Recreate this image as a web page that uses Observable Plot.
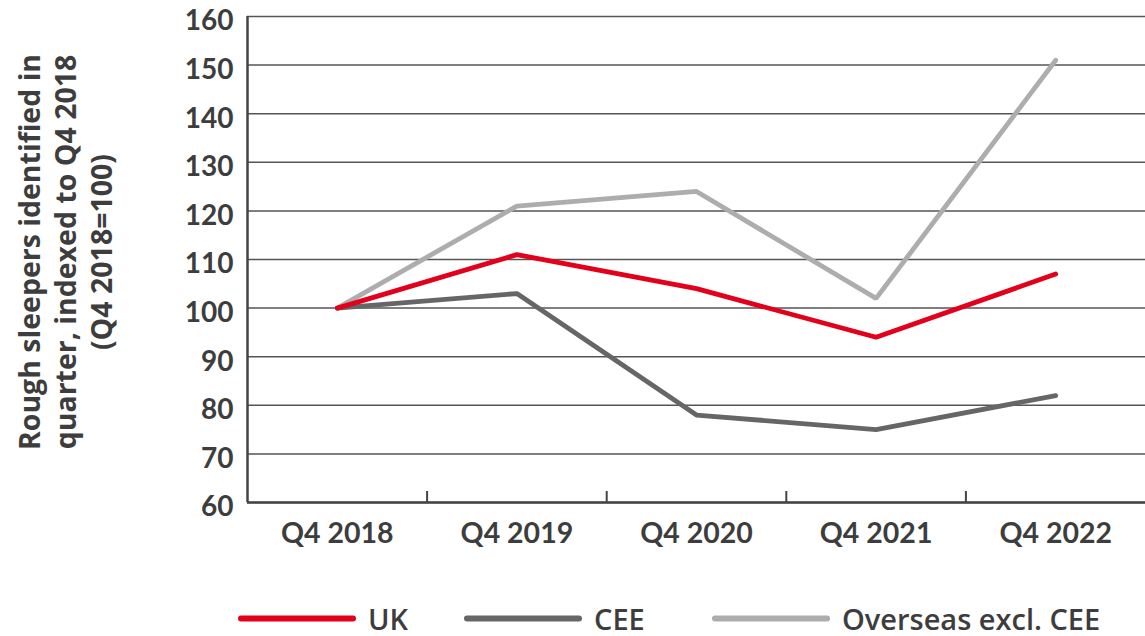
<!DOCTYPE html>
<html>
<head>
<meta charset="utf-8">
<script src="https://cdn.jsdelivr.net/npm/d3@7"></script>
<script src="https://cdn.jsdelivr.net/npm/@observablehq/plot@0.6"></script>
<style>
  html, body { margin: 0; padding: 0; background: #fff; }
  body { width: 1145px; height: 636px; position: relative; overflow: hidden; font-family: Lato, "Open Sans", sans-serif; color: #3d3d3d; }
  #chart { position: absolute; left: 0; top: 0; }
  #ytitle { position: absolute; left: 65px; top: 252px; transform: translate(-50%, -50%) rotate(-90deg); white-space: nowrap; text-align: center; font-family: "Open Sans", sans-serif; font-weight: 700; font-size: 28.5px; line-height: 36px; color: #3d3d3d; }
  .item { position: absolute; top: 618px; transform: translateY(-50%); display: flex; align-items: center; font-family: "Open Sans", sans-serif; font-weight: 600; font-size: 29px; color: #3d3d3d; white-space: nowrap; }
  .sw { width: 118px; height: 6px; border-radius: 3px; margin-right: 12px; }
</style>
</head>
<body>
<div id="chart"></div>
<div id="ytitle">Rough sleepers identified in<br>quarter, indexed to Q4 2018<br>(Q4 2018=100)</div>
<div id="legend"></div>
<script>
const quarters = ["Q4 2018", "Q4 2019", "Q4 2020", "Q4 2021", "Q4 2022"];
const uk = [100, 111, 104, 94, 107];
const cee = [100, 103, 78, 75, 82];
const overseas = [100, 121, 124, 102, 151];
const seriesNames = ["UK", "CEE", "Overseas excl. CEE"];
const seriesColors = ["#e2001a", "#666666", "#adadad"];
const yTicks = [60, 70, 80, 90, 100, 110, 120, 130, 140, 150, 160];
const legendLeft = [238, 464, 712];

const seriesValues = [uk, cee, overseas];
const data = [];
seriesNames.forEach((s, si) => quarters.forEach((q, i) => data.push({series: s, i, value: seriesValues[si][i]})));
const drawOrder = ["Overseas excl. CEE", "CEE", "UK"];
const boundaries = quarters.slice(1).map((_, i) => i + 0.5);

const textColor = "#3d3d3d";
const plot = Plot.plot({
  width: 1145,
  height: 560,
  marginTop: 16,
  marginBottom: 58,
  marginLeft: 247,
  marginRight: 0,
  style: {fontFamily: "Lato, 'Open Sans', sans-serif", background: "transparent", color: textColor, overflow: "visible"},
  x: {domain: [-0.5, quarters.length - 0.5]},
  y: {domain: [60, 160]},
  color: {domain: seriesNames, range: seriesColors},
  marks: [
    Plot.ruleY(yTicks, {stroke: "#555", strokeWidth: 1.5}),
    ...drawOrder.map(s => Plot.line(data.filter(d => d.series === s), {
      x: "i", y: "value", stroke: "series", strokeWidth: 4.8,
      strokeLinecap: "round", strokeLinejoin: "miter"
    })),
    Plot.ruleY([60], {stroke: "#444", strokeWidth: 2.5}),
    Plot.ruleX([-0.5], {stroke: "#444", strokeWidth: 2.5}),
    Plot.axisY({ticks: yTicks, tickSize: 0, tickPadding: 14, dy: 5, fontSize: 28, fontWeight: 700, fill: textColor, label: null}),
    Plot.axisX({ticks: quarters.map((_, i) => i), tickFormat: i => quarters[i], tickSize: 0, tickPadding: 20, fontSize: 28.5, fontWeight: 700, fill: textColor, label: null}),
    Plot.axisX({ticks: boundaries, tickFormat: () => "", tickSize: -11, stroke: "#444", strokeWidth: 2, label: null})
  ]
});
document.getElementById("chart").appendChild(plot);

const legend = document.getElementById("legend");
seriesNames.forEach((s, i) => {
  const item = document.createElement("div");
  item.className = "item";
  item.style.left = legendLeft[i] + "px";
  const sw = document.createElement("div");
  sw.className = "sw";
  sw.style.background = seriesColors[i];
  const lab = document.createElement("div");
  lab.textContent = s;
  item.appendChild(sw);
  item.appendChild(lab);
  legend.appendChild(item);
});
</script>
</body>
</html>
